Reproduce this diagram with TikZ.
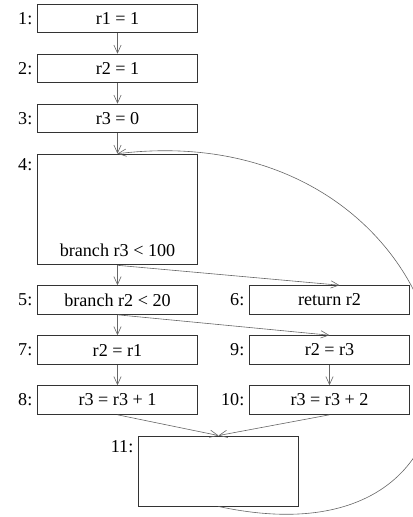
\documentclass[tikz,border=0pt]{standalone}
\usepackage{fontspec}
\setmainfont{Liberation Serif}
\usetikzlibrary{arrows.meta}
\begin{document}
\begin{tikzpicture}[x=0.75pt,y=-0.75pt]
\tikzset{block style/.style={shape=rectangle,draw=black!80, line width=0.7pt,
                             minimum width=120pt, minimum height=21.5pt, inner sep=0pt,
                             font=\fontsize{13.6}{16}\selectfont},
         tall label/.style={font=\fontsize{13.6}{16}\selectfont}}

\useasboundingbox (0,0) rectangle (413,517);

\node[block style, label={[tall label]left:{1:}}] at (117.5, 18.5)   (1)     {r1 = 1};
\node[block style, label={[tall label]left:{2:}}] at (117.5, 68.5)   (2)     {r2 = 1};
\node[block style, label={[tall label]left:{3:}}] at (117.5, 118.5)  (3)     {r3 = 0};
\node[block style, minimum height=83pt,
      label={[tall label, anchor=north east]north west:{4:}},
      label={[tall label, anchor=south, minimum height=21.5pt, inner sep=0pt]south:{branch r3 < 100}}]
                                                  at (117.5, 209.5)  (4)     {};
\node[block style, label={[tall label]left:{5:}}] at (117.5, 300)    (5)     {branch r2 < 20};
\node[block style, label={[tall label]left:{7:}}] at (117.5, 350)    (7)     {r2 = r1};
\node[block style, label={[tall label]left:{8:}}] at (117.5, 400)    (8)     {r3 = r3 + 1};

\node[block style, label={[tall label]left:{6:}}] at (329.5, 300)    (6)     {return r2};
\node[block style, label={[tall label]left:{9:}}] at (329.5, 350)    (9)     {r2 = r3};
\node[block style, label={[tall label]left:{10:}}] at (329.5, 400)   (10)    {r3 = r3 + 2};

\node[block style, minimum height=52.5pt,
      label={[tall label, anchor=north east]north west:{11:}}]
                                                  at (218.5, 471)    (11)    {};

\draw[line width=0.45pt, black!60, >={Straight Barb[length=6pt,width=5.5pt]}]
            (1.south)     edge[->]    (2.north)
            (2.south)     edge[->]    (3.north)
            (3.south)     edge[->]    (4.north)
            (4.south)     edge[->]    (5.north)
            (4.south)     edge[->]    ([xshift=7.5pt]6.north)
            (5.south)     edge[->]    (7.north)
            (5.south)     edge[->]    (9.north)
            (7.south)     edge[->]    (8.north)
            (9.south)     edge[->]    (10.north)
            (8.south)     edge[->]    (11.north)
            (10.south)    edge[->]    (11.north)
;
\draw[line width=0.45pt, black!60, ->, >={Straight Barb[length=6pt,width=5.5pt]}]
            (11.south) .. controls (560,580) and (480,110) .. (4.north);
\end{tikzpicture}
\end{document}
